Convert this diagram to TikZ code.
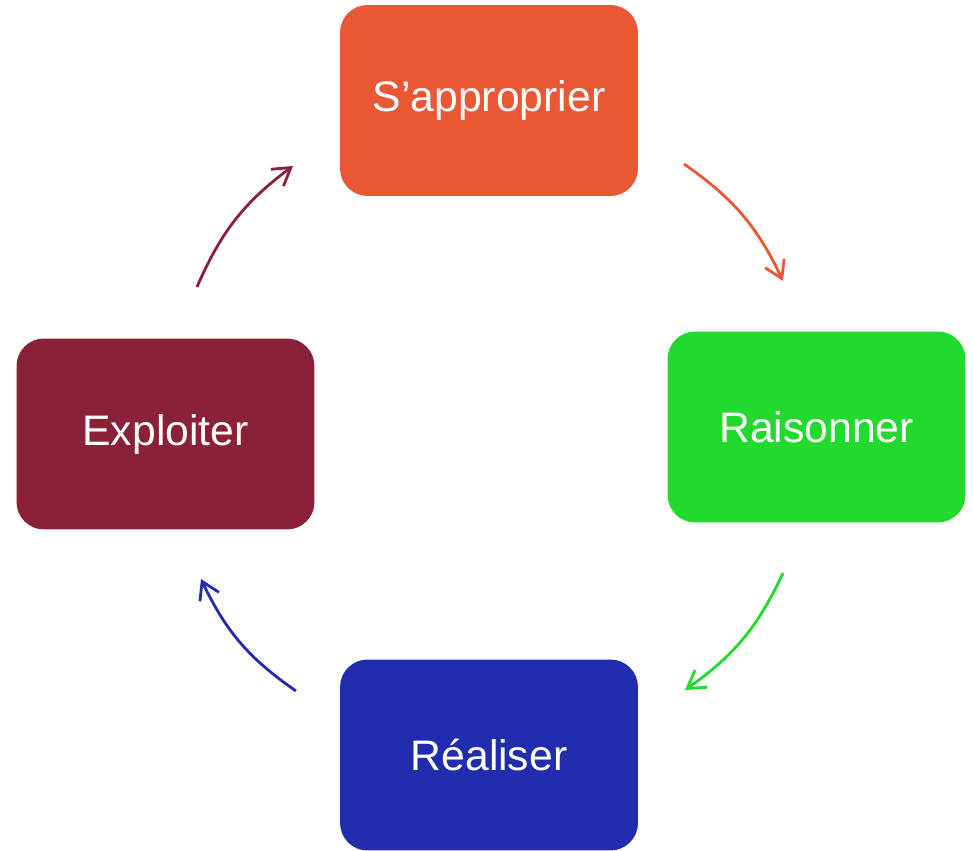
\documentclass[tikz,border=0pt]{standalone}
\usepackage{fontspec}
\setmainfont{Liberation Sans}
\usetikzlibrary{arrows.meta}

\definecolor{appro}{HTML}{EA5735}
\definecolor{raison}{HTML}{22D92E}
\definecolor{reali}{HTML}{212CAE}
\definecolor{exploi}{HTML}{8B2139}

\begin{document}
\begin{tikzpicture}[x=0.02cm,y=0.02cm,>={Straight Barb[length=3.4mm,width=4.2mm]},
    etape/.style={rounded corners=0.55cm,minimum width=5.96cm,minimum height=3.82cm,
        text=white,font=\fontsize{24.3}{28}\selectfont},
    fleche/.style={->,line width=1.6pt,bend left=15}]

    \useasboundingbox (0,0) rectangle (973,851);

    % les quatre etapes
    \node [etape,fill=appro] (approprier) at (489,750.5) {S’approprier};
    \node [etape,fill=raison] (raisonner) at (816.5,424) {Raisonner};
    \node [etape,fill=reali] (realiser) at (489,96) {Réaliser};
    \node [etape,fill=exploi] (exploiter) at (165.5,417) {Exploiter};

    % extremites des fleches
    \coordinate (a1) at (684,687);
    \coordinate (a2) at (783,570);
    \coordinate (b1) at (783,278);
    \coordinate (b2) at (685,161);
    \coordinate (c1) at (296,160);
    \coordinate (c2) at (201,272);
    \coordinate (d1) at (197,564);
    \coordinate (d2) at (293,685);

    \draw [fleche,appro] (a1) to (a2);
    \draw [fleche,raison] (b1) to (b2);
    \draw [fleche,reali] (c1) to (c2);
    \draw [fleche,exploi] (d1) to (d2);

\end{tikzpicture}
\end{document}
